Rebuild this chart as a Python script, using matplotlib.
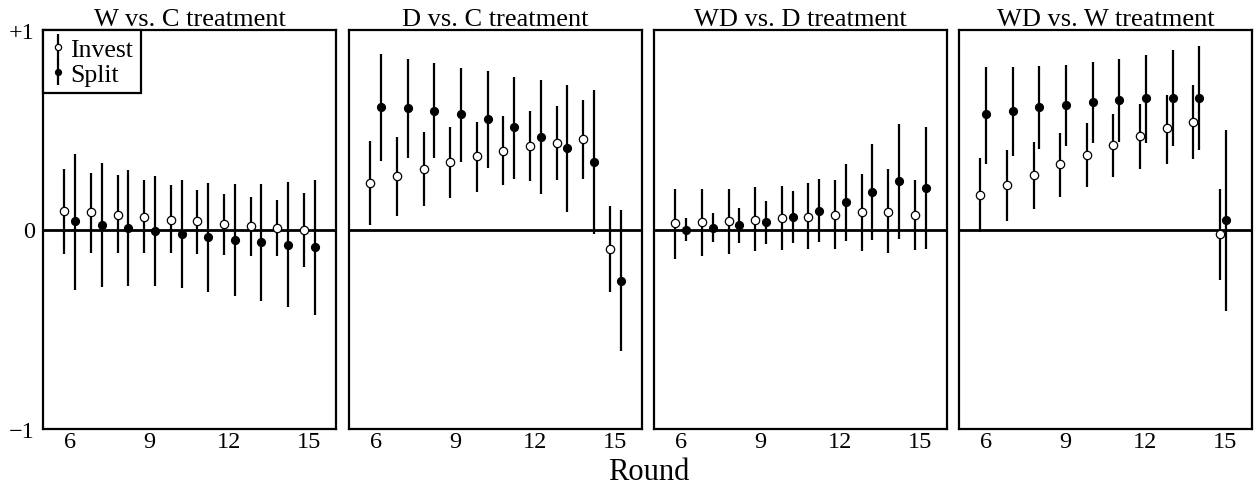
import numpy as np
import matplotlib
matplotlib.use('Agg')
import matplotlib.pyplot as plt

plt.rcParams['font.family'] = ['Liberation Serif', 'DejaVu Serif']

# 数据：每个处理的 Invest / Split 效应与置信区间
rounds = np.arange(6, 16)
titles = ['W vs. C treatment', 'D vs. C treatment', 'WD vs. D treatment', 'WD vs. W treatment']

invest_mean = [
    [0.092, 0.089, 0.075, 0.062, 0.050, 0.042, 0.027, 0.018, 0.007, -0.003],
    [0.232, 0.267, 0.302, 0.338, 0.369, 0.393, 0.418, 0.433, 0.453, -0.099],
    [0.032, 0.037, 0.042, 0.050, 0.060, 0.065, 0.075, 0.087, 0.090, 0.075],
    [0.172, 0.222, 0.272, 0.327, 0.373, 0.423, 0.468, 0.508, 0.538, -0.023],
]
invest_hi = [
    [0.304, 0.284, 0.271, 0.246, 0.221, 0.200, 0.180, 0.164, 0.150, 0.185],
    [0.444, 0.466, 0.490, 0.516, 0.540, 0.570, 0.595, 0.620, 0.647, 0.119],
    [0.204, 0.204, 0.204, 0.214, 0.219, 0.234, 0.249, 0.279, 0.304, 0.249],
    [0.359, 0.399, 0.439, 0.485, 0.535, 0.580, 0.630, 0.675, 0.722, 0.204],
]
invest_lo = [
    [-0.125, -0.117, -0.120, -0.120, -0.120, -0.125, -0.130, -0.135, -0.135, -0.189],
    [0.022, 0.070, 0.117, 0.157, 0.190, 0.222, 0.242, 0.247, 0.252, -0.314],
    [-0.147, -0.134, -0.122, -0.109, -0.104, -0.099, -0.099, -0.109, -0.119, -0.104],
    [-0.013, 0.042, 0.102, 0.162, 0.212, 0.262, 0.302, 0.327, 0.353, -0.254],
]

split_mean = [
    [0.042, 0.022, 0.007, -0.010, -0.025, -0.038, -0.052, -0.065, -0.079, -0.089],
    [0.613, 0.608, 0.593, 0.578, 0.553, 0.513, 0.463, 0.408, 0.339, -0.256],
    [-0.003, 0.010, 0.022, 0.037, 0.062, 0.095, 0.137, 0.187, 0.241, 0.207],
    [0.578, 0.593, 0.613, 0.623, 0.638, 0.648, 0.658, 0.658, 0.658, 0.047],
]
split_hi = [
    [0.376, 0.331, 0.296, 0.266, 0.246, 0.232, 0.226, 0.226, 0.236, 0.246],
    [0.882, 0.855, 0.837, 0.810, 0.795, 0.765, 0.750, 0.725, 0.700, 0.097],
    [0.058, 0.084, 0.109, 0.144, 0.194, 0.254, 0.329, 0.429, 0.530, 0.515],
    [0.815, 0.815, 0.820, 0.825, 0.840, 0.855, 0.876, 0.901, 0.921, 0.500],
]
split_lo = [
    [-0.301, -0.289, -0.284, -0.284, -0.294, -0.314, -0.334, -0.359, -0.389, -0.429],
    [0.343, 0.358, 0.358, 0.338, 0.307, 0.252, 0.177, 0.089, -0.022, -0.610],
    [-0.058, -0.065, -0.070, -0.075, -0.070, -0.065, -0.058, -0.053, -0.048, -0.099],
    [0.327, 0.368, 0.403, 0.418, 0.433, 0.438, 0.433, 0.418, 0.398, -0.409],
]

# 点的左右错开量
invest_shift = [-0.2, -0.2, -0.2, -0.2]
split_shift = [0.2, 0.2, 0.2, 0.02]

W, H = 1258, 489
fig = plt.figure(figsize=(W / 100, H / 100), dpi=100)

lefts = [43, 349, 654, 959]
ax_w = 293
top_px, bot_px = 31, 430

for i in range(4):
    ax = fig.add_axes([lefts[i] / W, 1 - bot_px / H, ax_w / W, (bot_px - top_px) / H])
    im = np.array(invest_mean[i])
    sm = np.array(split_mean[i])
    ierr = [im - np.array(invest_lo[i]), np.array(invest_hi[i]) - im]
    serr = [sm - np.array(split_lo[i]), np.array(split_hi[i]) - sm]

    ax.axhline(0, color='black', lw=2.0, zorder=1)
    ax.errorbar(rounds + invest_shift[i], im, yerr=ierr, fmt='o', color='black',
                mfc='white', mec='black', mew=0.9, ms=6, elinewidth=1.6,
                capsize=0, label='Invest', zorder=3)
    ax.errorbar(rounds + split_shift[i], sm, yerr=serr, fmt='o', color='black',
                mfc='black', mec='black', ms=5.6, elinewidth=1.6,
                capsize=0, label='Split', zorder=3)

    ax.set_xlim(5, 16)
    ax.set_ylim(-1, 1)
    ax.set_xticks([6, 9, 12, 15])
    ax.tick_params(axis='both', length=0, labelsize=17.5)
    ax.tick_params(axis='x', pad=1.5)
    ax.tick_params(axis='y', pad=6)
    if i == 0:
        ax.set_yticks([-1, 0, 1])
        ax.set_yticklabels(['\u22121', '0', '+1'])
    else:
        ax.set_yticks([])
    for s in ax.spines.values():
        s.set_linewidth(1.6)
    ax.set_title(titles[i], fontsize=19, pad=3.5)

    if i == 0:
        leg = ax.legend(loc='upper left', borderaxespad=0, fontsize=18.5,
                        handlelength=0.6, handletextpad=0.15, labelspacing=0.08,
                        borderpad=0.3, markerscale=0.75, fancybox=False,
                        framealpha=1, edgecolor='black')
        leg.get_frame().set_linewidth(1.6)

fig.text(649 / W, 1 - 472 / H, 'Round', fontsize=22, ha='center', va='center')

fig.savefig('out.png', dpi=100)
